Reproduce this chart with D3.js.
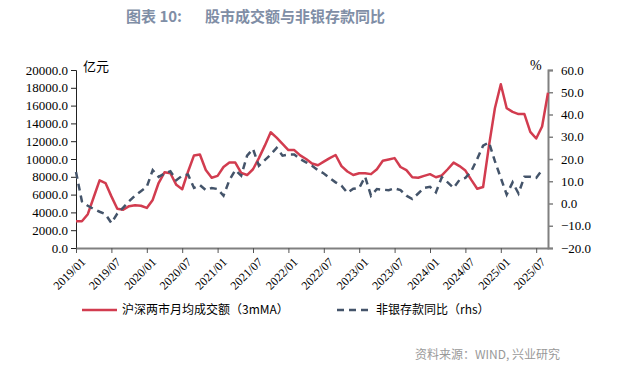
<!DOCTYPE html>
<html>
<head>
<meta charset="utf-8">
<script src="https://cdn.jsdelivr.net/npm/d3@7"></script>
<style>
  body { margin: 0; background: #fff; }
  svg { display: block; }
</style>
</head>
<body>
<div id="chart"></div>
<script>
// 股市成交额与非银存款同比
const width = 634;
const height = 366;
const margin = { top: 70, right: 86, bottom: 118, left: 76 };

// monthly categories 2019/01 .. 2025/09
const months = d3.timeMonth.range(new Date(2019, 0, 1), new Date(2025, 9, 1)).map(d3.timeFormat('%Y/%m'));
const tickLabels = ['2019/01', '2019/07', '2020/01', '2020/07', '2021/01', '2021/07', '2022/01',
  '2022/07', '2023/01', '2023/07', '2024/01', '2024/07', '2025/01', '2025/07'];

// 沪深两市月均成交额（3mMA），亿元
const turnover = [
  3000, 3000, 3800, 5700, 7600, 7300, 5800, 4400, 4300, 4700, 4800, 4750,
  4500, 5400, 7300, 8500, 8400, 7100, 6600, 8600, 10400, 10500, 8760, 7900,
  8100, 9100, 9600, 9600, 8450, 8200, 8850, 10100, 11500, 13000, 12400, 11700,
  11000, 11000, 10400, 10000, 9500, 9300, 9700, 10100, 10450, 9200, 8600, 8200,
  8400, 8400, 8300, 8850, 9800, 9950, 10100, 9100, 8750, 7950, 7900, 8100,
  8300, 7950, 8150, 8850, 9600, 9200, 8700, 7650, 6650, 6850, 11500, 15700,
  18400, 15700, 15300, 15050, 15050, 13050, 12300, 13650, 17450
];

// 非银存款同比（rhs），%
const depositYoY = [
  14.2, 1, -1, -2.5, -3.7, -4.8, -8.8, -4.5, -1.8, 1, 3.5, 5.5,
  7.5, 15, 12, 13.5, 14.5, 10.5, 12.5, 13, 7, 8.3, 6, 7,
  6.5, 3.5, 10.5, 15, 12.5, 21.5, 24.5, 17, 19.5, 22, 25, 21.5,
  22, 22, 20, 18.5, 17, 15, 13.5, 11.5, 9.5, 8, 4.8, 6.6,
  7, 12, 3.5, 6.5, 6.2, 6, 6.8, 6, 3.5, 2, 4.5, 7,
  7.5, 5, 11.8, 9.5, 7, 10.6, 11.5, 14.5, 20, 26, 27.5, 19,
  11.5, 4, 9.5, 4.5, 12, 12, 11.5, 15, null
];

const leftTicks = [0, 2000, 4000, 6000, 8000, 10000, 12000, 14000, 16000, 18000, 20000];
const rightTicks = [-20, -10, 0, 10, 20, 30, 40, 50, 60];

const red = '#d23c4f';
const navy = '#44546a';

const svg = d3.select('#chart')
  .append('svg')
  .attr('width', width)
  .attr('height', height);

const x = d3.scalePoint().domain(months).range([margin.left, width - margin.right]);
const yL = d3.scaleLinear().domain([0, 20000]).range([height - margin.bottom, margin.top]);
const yR = d3.scaleLinear().domain([-20, 60]).range([height - margin.bottom, margin.top]);

// title
svg.append('text')
  .attr('x', 126)
  .attr('y', 22)
  .attr('fill', '#7f8ea6')
  .style('font-family', '"Noto Sans CJK SC", sans-serif')
  .style('font-size', '15px')
  .style('font-weight', 'bold')
  .text('图表 10:');
svg.append('text')
  .attr('x', 205)
  .attr('y', 22)
  .attr('fill', '#7f8ea6')
  .style('font-family', '"Noto Sans CJK SC", sans-serif')
  .style('font-size', '15px')
  .style('font-weight', 'bold')
  .text('股市成交额与非银存款同比');

// left axis
const leftAxis = svg.append('g')
  .attr('transform', `translate(${margin.left},0)`)
  .call(d3.axisLeft(yL).tickValues(leftTicks).tickFormat(d3.format('.1f')).tickSize(5).tickPadding(3));
leftAxis.select('.domain').attr('stroke', '#222');
leftAxis.selectAll('.tick line').attr('stroke', '#222');
leftAxis.selectAll('text')
  .style('font-family', '"Liberation Serif", serif')
  .style('font-size', '13px')
  .attr('fill', '#000');

// right axis
const rightAxis = svg.append('g')
  .attr('transform', `translate(${width - margin.right},0)`)
  .call(d3.axisRight(yR).tickValues(rightTicks).tickFormat(d3.format('.1f')).tickSize(5).tickPadding(8));
rightAxis.select('.domain').attr('stroke', '#808080').attr('stroke-width', 2);
rightAxis.selectAll('.tick line').attr('stroke', '#808080').attr('stroke-width', 1.5);
rightAxis.selectAll('text')
  .style('font-family', '"Liberation Serif", serif')
  .style('font-size', '13px')
  .attr('fill', '#000');

// bottom axis
const bottomAxis = svg.append('g')
  .attr('transform', `translate(0,${height - margin.bottom})`)
  .call(d3.axisBottom(x).tickValues(tickLabels).tickSize(5).tickSizeOuter(0));
bottomAxis.select('.domain').attr('stroke', '#808080').attr('stroke-width', 2);
bottomAxis.selectAll('.tick line').attr('stroke', '#555');
bottomAxis.selectAll('text')
  .style('font-family', '"Liberation Serif", serif')
  .style('font-size', '12px')
  .attr('fill', '#000')
  .attr('text-anchor', 'end')
  .attr('dx', 0)
  .attr('dy', 0)
  .attr('transform', 'translate(4,9) rotate(-45)');

// unit labels
svg.append('text')
  .attr('x', 83)
  .attr('y', 71)
  .style('font-family', '"Noto Sans CJK SC", sans-serif')
  .style('font-size', '13px')
  .text('亿元');
svg.append('text')
  .attr('x', 530)
  .attr('y', 70)
  .style('font-family', '"Liberation Serif", serif')
  .style('font-size', '14px')
  .text('%');

// lines
const redLine = d3.line()
  .x((d, i) => x(months[i]))
  .y(d => yL(d));
svg.append('path')
  .datum(turnover)
  .attr('fill', 'none')
  .attr('stroke', red)
  .attr('stroke-width', 2.5)
  .attr('stroke-linejoin', 'round')
  .attr('d', redLine);

const blueLine = d3.line()
  .defined(d => d !== null)
  .x((d, i) => x(months[i]))
  .y(d => yR(d));
svg.append('path')
  .datum(depositYoY)
  .attr('fill', 'none')
  .attr('stroke', navy)
  .attr('stroke-width', 2.5)
  .attr('stroke-dasharray', '7,5')
  .attr('d', blueLine);

// legend
const legendFont = '"Noto Sans CJK SC", sans-serif';
svg.append('line')
  .attr('x1', 82).attr('x2', 117).attr('y1', 310).attr('y2', 310)
  .attr('stroke', red).attr('stroke-width', 2.5);
svg.append('text')
  .attr('x', 122).attr('y', 314)
  .style('font-family', legendFont)
  .style('font-size', '12px')
  .text('沪深两市月均成交额（3mMA）');
svg.append('line')
  .attr('x1', 337).attr('x2', 373).attr('y1', 310).attr('y2', 310)
  .attr('stroke', navy).attr('stroke-width', 2.5)
  .attr('stroke-dasharray', '7,5');
svg.append('text')
  .attr('x', 376).attr('y', 314)
  .style('font-family', legendFont)
  .style('font-size', '12px')
  .text('非银存款同比（rhs）');

// source
svg.append('text')
  .attr('x', 560).attr('y', 359)
  .attr('text-anchor', 'end')
  .attr('fill', '#999')
  .style('font-family', '"Noto Sans CJK SC", sans-serif')
  .style('font-size', '12px')
  .text('资料来源：WIND, 兴业研究');
</script>
</body>
</html>
